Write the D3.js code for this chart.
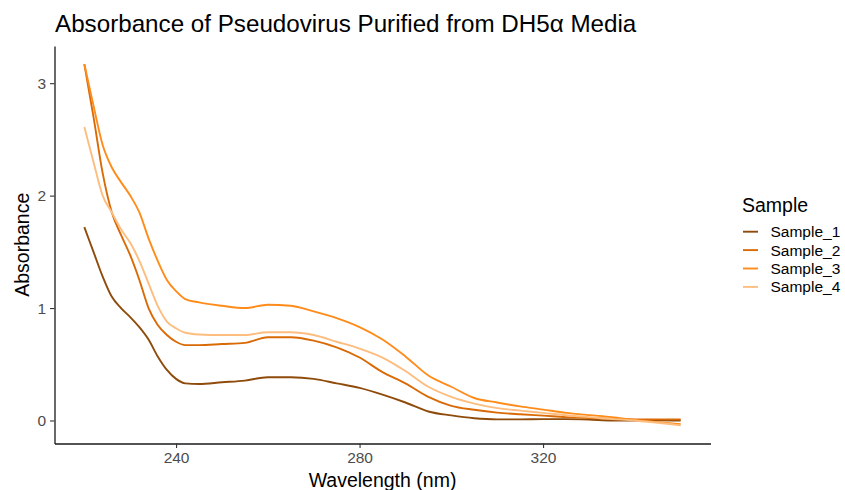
<!DOCTYPE html>
<html>
<head>
<meta charset="utf-8">
<script src="https://cdn.jsdelivr.net/npm/d3@7"></script>
<style>
  body { margin: 0; background: #fff; }
  svg { font-family: "Liberation Sans", Arial, sans-serif; }
</style>
</head>
<body>
<svg id="chart" width="845" height="490"></svg>
<script>
// wavelength grid (nm)
const wavelengths = [220, 222, 224, 226, 228, 230, 232, 234, 236, 238, 240, 242, 245, 250, 255, 260, 265, 270, 275, 280,
  285, 290, 295, 300, 305, 310, 315, 320, 325, 330, 335, 340, 345, 350];

const sample1 = [1.72, 1.50, 1.28, 1.10, 1.00, 0.92, 0.83, 0.72, 0.57, 0.45, 0.37, 0.33, 0.325, 0.34, 0.355, 0.385, 0.385, 0.37, 0.33, 0.29,
  0.23, 0.16, 0.08, 0.045, 0.02, 0.01, 0.01, 0.012, 0.012, 0.008, 0.0, 0.0, 0.002, 0.0];
const sample2 = [3.17, 2.70, 2.20, 1.85, 1.65, 1.47, 1.25, 1.00, 0.85, 0.76, 0.70, 0.67, 0.67, 0.68, 0.69, 0.74, 0.74, 0.71, 0.65, 0.56,
  0.43, 0.33, 0.21, 0.13, 0.095, 0.07, 0.055, 0.043, 0.03, 0.022, 0.015, 0.01, 0.01, 0.01];
const sample3 = [3.17, 2.80, 2.45, 2.25, 2.12, 2.00, 1.85, 1.62, 1.42, 1.25, 1.15, 1.08, 1.05, 1.02, 1.00, 1.03, 1.02, 0.97, 0.91, 0.83,
  0.72, 0.57, 0.40, 0.30, 0.20, 0.16, 0.125, 0.097, 0.068, 0.048, 0.03, 0.005, -0.015, -0.032];
const sample4 = [2.61, 2.30, 2.00, 1.85, 1.70, 1.58, 1.42, 1.22, 1.02, 0.88, 0.82, 0.78, 0.765, 0.76, 0.76, 0.785, 0.785, 0.76, 0.70, 0.64,
  0.56, 0.44, 0.30, 0.21, 0.15, 0.11, 0.088, 0.068, 0.047, 0.03, 0.013, 0.0, -0.02, -0.044];

const sampleNames = ["Sample_1", "Sample_2", "Sample_3", "Sample_4"];
const sampleValues = [sample1, sample2, sample3, sample4];
const sampleColors = ["#8f4b0b", "#d96a06", "#ff8c1a", "#fdbd7f"];

const xTicks = [240, 280, 320];
const yTicks = [0, 1, 2, 3];

const svg = d3.select("#chart");

// panel bounds
const panelLeft = 54.5, panelRight = 710.5, panelTop = 46, panelBottom = 443.5;

// ggplot-style 5% expansion around data range
const xMin = d3.min(wavelengths), xMax = d3.max(wavelengths);
const xPad = (xMax - xMin) * 0.05;
const x = d3.scaleLinear().domain([xMin - xPad, xMax + xPad]).range([panelLeft, panelRight]);

const allVals = sampleValues.flat();
const yMin = d3.min(allVals), yMax = d3.max(allVals);
const yPad = (yMax - yMin) * 0.05;
const y = d3.scaleLinear().domain([yMin - yPad, yMax + yPad]).range([panelBottom, panelTop]);

const line = d3.line()
    .x((d) => x(d[0]))
    .y((d) => y(d[1]))
    .curve(d3.curveMonotoneX);

// lines
sampleValues.forEach((vals, i) => {
    svg.append("path")
        .datum(wavelengths.map((w, j) => [w, vals[j]]))
        .attr("fill", "none")
        .attr("stroke", sampleColors[i])
        .attr("stroke-width", 1.9)
        .attr("stroke-linejoin", "round")
        .attr("d", line);
});

// axes
const xAxis = svg.append("g")
    .attr("transform", `translate(0, ${panelBottom})`)
    .call(d3.axisBottom(x).tickValues(xTicks).tickSize(4.5).tickSizeOuter(0).tickPadding(4));

const yAxis = svg.append("g")
    .attr("transform", `translate(${panelLeft}, 0)`)
    .call(d3.axisLeft(y).tickValues(yTicks).tickFormat(d3.format("d"))
        .tickSize(4.5).tickSizeOuter(0).tickPadding(4));

[xAxis, yAxis].forEach((g) => {
    g.select(".domain").attr("stroke", "#1a1a1a").attr("stroke-width", 1.3);
    g.selectAll(".tick line").attr("stroke", "#333").attr("stroke-width", 1.1);
    g.selectAll(".tick text").attr("fill", "#4d4d4d").attr("font-size", 15.5)
        .attr("font-family", "Liberation Sans, Arial, sans-serif");
});

// axis titles
svg.append("text")
    .attr("x", (panelLeft + panelRight) / 2)
    .attr("y", 487)
    .attr("text-anchor", "middle")
    .attr("font-size", 19.5)
    .attr("fill", "#000")
    .text("Wavelength (nm)");

svg.append("text")
    .attr("transform", `translate(29, ${(panelTop + panelBottom) / 2}) rotate(-90)`)
    .attr("text-anchor", "middle")
    .attr("font-size", 19.5)
    .attr("fill", "#000")
    .text("Absorbance");

// title
svg.append("text")
    .attr("x", 55)
    .attr("y", 32)
    .attr("font-size", 24.2)
    .attr("fill", "#000")
    .text("Absorbance of Pseudovirus Purified from DH5α Media");

// legend
const legend = svg.append("g").attr("transform", "translate(742, 0)");
legend.append("text")
    .attr("x", 0)
    .attr("y", 212)
    .attr("font-size", 19.5)
    .attr("fill", "#000")
    .text("Sample");

sampleNames.forEach((name, i) => {
    const ky = 231.7 + i * 18.4;
    legend.append("line")
        .attr("x1", 1).attr("x2", 16)
        .attr("y1", ky).attr("y2", ky)
        .attr("stroke", sampleColors[i])
        .attr("stroke-width", 1.9);
    legend.append("text")
        .attr("x", 28.5)
        .attr("y", ky)
        .attr("dy", "0.35em")
        .attr("font-size", 15.5)
        .attr("fill", "#000")
        .text(name);
});
</script>
</body>
</html>
